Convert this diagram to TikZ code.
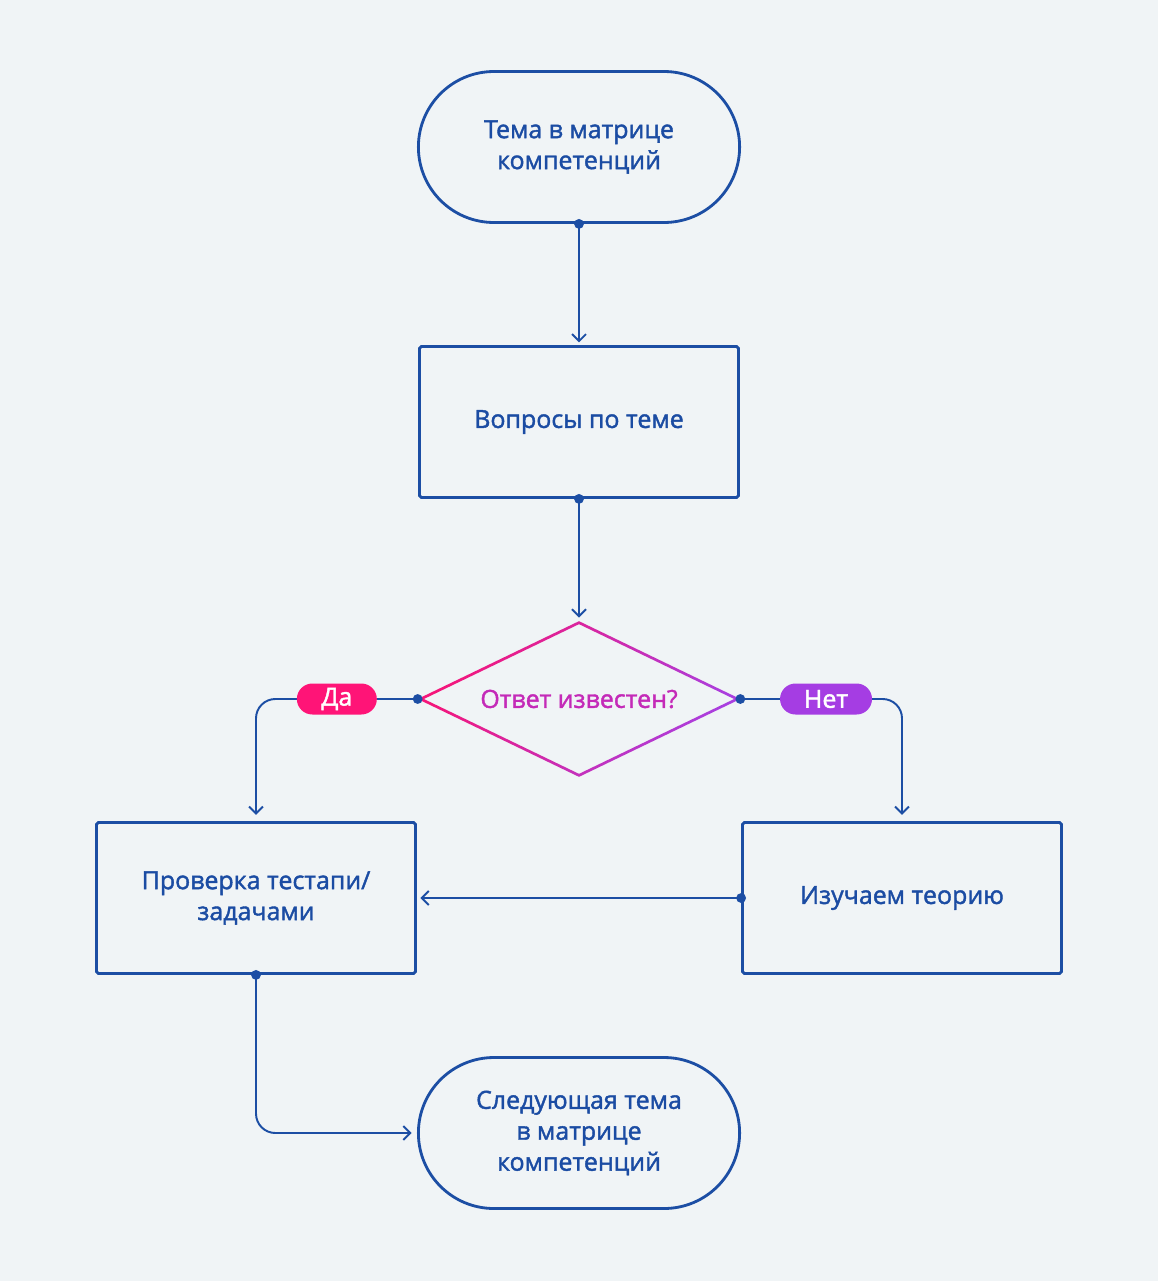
\documentclass[tikz,border=0pt]{standalone}
\usepackage{fontspec}
\setmainfont{Open Sans}[FakeBold=1.6]
\usetikzlibrary{shapes.geometric,shapes.misc,arrows.meta,positioning}
\definecolor{bgc}{HTML}{F0F4F6}
\definecolor{bluec}{HTML}{1C4EA4}
\definecolor{textc}{HTML}{1B4CA3}
\definecolor{pinkc}{HTML}{F5167A}
\definecolor{purplec}{HTML}{A93FE0}
\definecolor{askc}{HTML}{C42AB8}
\definecolor{yesc}{HTML}{FF1477}
\definecolor{noc}{HTML}{A53DE3}
\tikzset{
  terminal/.style={rounded rectangle, draw=bluec, line width=1.6pt, minimum width=6.66cm, minimum height=3.02cm, text=textc, align=center, font=\fontsize{14.2}{17.6}\selectfont},
  process/.style={rectangle, rounded corners=1pt, draw=bluec, line width=1.6pt, minimum width=6.38cm, minimum height=3.02cm, text=textc, align=center, font=\fontsize{14.2}{17.6}\selectfont},
  decision/.style={diamond, aspect=2.08, minimum width=6.44cm, minimum height=3.1cm, text=askc, font=\fontsize{14.2}{17.6}\selectfont},
  flow/.style={draw=bluec, line width=1.1pt, -{Straight Barb[length=4pt,width=8pt]}, rounded corners=11pt},
  dot/.style={circle, fill=bluec, inner sep=0pt, minimum size=5.6pt},
  pill/.style={rounded rectangle, sharp corners, text=white, minimum width=1.6cm, minimum height=0.62cm, inner sep=0pt, font=\fontsize{14.2}{15}\selectfont}
}
\begin{document}
\begin{tikzpicture}[x=0.02cm, y=-0.02cm]
\useasboundingbox[fill=bgc] (0,0) rectangle (1158,1281);

\node[terminal] (start) at (579,147) {Тема в матрице\\компетенций};
\node[process] (quest) at (579,422) {Вопросы по теме};
\node[decision] (known) at (579,699) {Ответ известен?};
\node[process] (check) at (256,898) {Проверка тестапи/\\задачами};
\node[process] (theory) at (902,898) {Изучаем теорию};
\node[terminal] (next) at (579,1133) {Следующая тема\\в матрице\\компетенций};

% diamond outline with a colour gradient
\shade[top color=pinkc, bottom color=purplec, shading angle=60, even odd rule]
  (known.north) -- (known.east) -- (known.south) -- (known.west) -- cycle
  ([yshift=-1.7pt]known.north) -- ([xshift=-3.5pt]known.east) -- ([yshift=1.7pt]known.south) -- ([xshift=3.5pt]known.west) -- cycle;

\draw[flow, shorten >=1.5pt] (start.south) node[dot]{} -- (quest.north);
\draw[flow, shorten >=2pt] (quest.south) node[dot]{} -- (known.north);
\draw[flow, shorten >=3.5pt] (known.west) node[dot]{} -| node[pill, fill=yesc, pos=0.25]{Да} (check.north);
\draw[flow, shorten >=3.5pt] (known.east) node[dot]{} -| node[pill, fill=noc, minimum width=1.84cm, pos=0.265]{Нет} (theory.north);
\draw[flow, shorten >=2pt] (theory.west) node[dot]{} -- (check.east);
\draw[flow, shorten >=3pt] (check.south) node[dot]{} |- (next.west);
\end{tikzpicture}
\end{document}
